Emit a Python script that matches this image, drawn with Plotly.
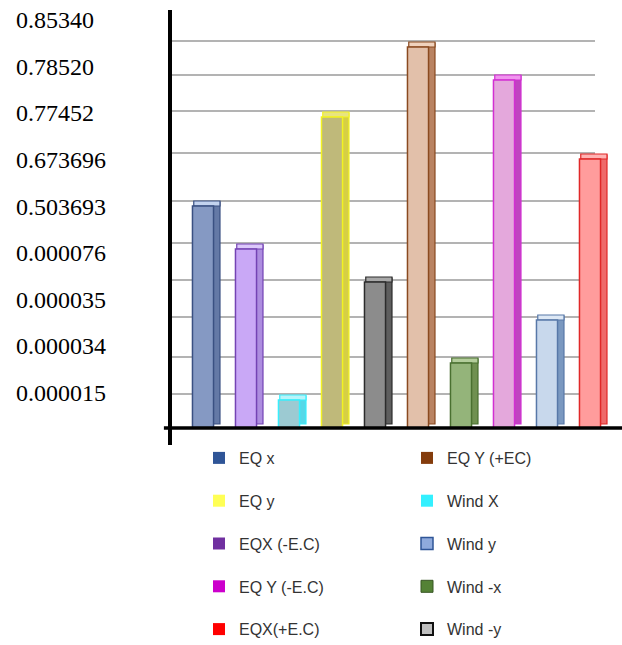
import plotly.graph_objects as go

# ---------------- data ----------------
categories = ["EQ x", "EQX (-E.C)", "Wind X", "EQ y", "Wind -y",
              "EQ Y (+EC)", "Wind -x", "EQ Y (-E.C)", "Wind y", "EQX(+E.C)"]
values = [222, 179, 28, 311, 146, 381, 65, 348, 108, 269]

# y tick labels (bottom -> top) as printed on the chart
tick_labels = ["0.000015", "0.000034", "0.000035", "0.000076", "0.503693",
               "0.673696", "0.77452", "0.78520", "0.85340"]
# horizontal gridline levels (chart units)
grid_levels = [34, 71, 111, 148, 185, 227, 275, 317, 353, 387]

# legend (two columns)
legend_left = ["EQ x", "EQ y", "EQX (-E.C)", "EQ Y (-E.C)", "EQX(+E.C)"]
legend_right = ["EQ Y (+EC)", "Wind X", "Wind y", "Wind -x", "Wind -y"]

# ---------------- styles ----------------
front_col = {"EQ x": "#8599c3", "EQX (-E.C)": "#c9a8f6", "Wind X": "#9ccad2",
             "EQ y": "#bfb97a", "Wind -y": "#8c8c8c", "EQ Y (+EC)": "#e2c0aa",
             "Wind -x": "#94b47a", "EQ Y (-E.C)": "#e4a8dc", "Wind y": "#c8d8ec",
             "EQX(+E.C)": "#ff9c9c"}
side_col = {"EQ x": "#6479a6", "EQX (-E.C)": "#ad8ddf", "Wind X": "#55d8e8",
            "EQ y": "#d6cf45", "Wind -y": "#5e5e5e", "EQ Y (+EC)": "#b98362",
            "Wind -x": "#6f9050", "EQ Y (-E.C)": "#c043c0", "Wind y": "#7a98c0",
            "EQX(+E.C)": "#ee6a6a"}
cap_col = {"EQ x": "#c3d3ef", "EQX (-E.C)": "#dcc8fb", "Wind X": "#b8f4fa",
           "EQ y": "#e8e480", "Wind -y": "#a8a8a8", "EQ Y (+EC)": "#f0d2bd",
           "Wind -x": "#b3cd9b", "EQ Y (-E.C)": "#f095ee", "Wind y": "#dde8f5",
           "EQX(+E.C)": "#ffb3b3"}
line_col = {"EQ x": "#3a5082", "EQX (-E.C)": "#7443b4", "Wind X": "#38eefc",
            "EQ y": "#f2f222", "Wind -y": "#2c2c2c", "EQ Y (+EC)": "#8a4a20",
            "Wind -x": "#4a7030", "EQ Y (-E.C)": "#d22fd2", "Wind y": "#5878a8",
            "EQX(+E.C)": "#e02828"}
legend_col = {"EQ x": "#2f5597", "EQ y": "#ffff55", "EQX (-E.C)": "#7030a0",
              "EQ Y (-E.C)": "#cc00cc", "EQX(+E.C)": "#ff0000",
              "EQ Y (+EC)": "#843c0c", "Wind X": "#33f0ff", "Wind y": "#8faadc",
              "Wind -x": "#548235", "Wind -y": "#c0c0c0"}
legend_line = {"Wind y": ("#2f5597", 1.5), "Wind -x": ("#375623", 1),
               "Wind -y": ("#111111", 2)}

W_FRONT = 0.49
DEPTH = 5

fig = go.Figure()

fronts = [front_col[c] for c in categories]
sides = [side_col[c] for c in categories]
caps = [cap_col[c] for c in categories]
lines = [line_col[c] for c in categories]

# side faces
fig.add_trace(go.Bar(x=categories, y=values, base=[DEPTH - 1] * len(values),
                     offset=W_FRONT / 2 - 0.01, width=0.16,
                     marker=dict(color=sides, line=dict(color=lines, width=1.2)),
                     showlegend=False, hoverinfo="skip"))
# top caps
fig.add_trace(go.Bar(x=categories, y=[DEPTH] * len(values), base=values,
                     offset=-W_FRONT / 2 + 0.03, width=W_FRONT + 0.12,
                     marker=dict(color=caps, line=dict(color=lines, width=1.2)),
                     showlegend=False, hoverinfo="skip"))
# front faces
fig.add_trace(go.Bar(x=categories, y=values, offset=-W_FRONT / 2, width=W_FRONT,
                     marker=dict(color=fronts, line=dict(color=lines, width=1.5)),
                     showlegend=False))

# legend entries
for lg, names in (("legend", legend_left), ("legend2", legend_right)):
    for n in names:
        lc, lw = legend_line.get(n, (legend_col[n], 0))
        fig.add_trace(go.Bar(x=[None], y=[None], name=n, legend=lg,
                             legendgroup=n,
                             marker=dict(color=legend_col[n],
                                         line=dict(color=lc, width=lw))))

# invisible helper axis for the printed tick labels
fig.add_trace(go.Scatter(x=[categories[0]], y=[0], yaxis="y2", mode="markers",
                         marker=dict(opacity=0), showlegend=False,
                         hoverinfo="skip"))

# gridlines
for g in grid_levels:
    fig.add_shape(type="line", xref="paper", yref="y", x0=0, x1=0.94,
                  y0=g, y1=g, line=dict(color="#9a9a9a", width=1.5), layer="below")
# baseline
fig.add_shape(type="line", xref="paper", yref="y", x0=-0.018, x1=1.0, y0=0, y1=0,
              line=dict(color="black", width=3.5))

# y labels as text
for i, t in enumerate(tick_labels):
    fig.add_annotation(text=t, xref="paper", yref="y2", x=-0.351, y=i,
                       xanchor="left", yanchor="middle", showarrow=False,
                       font=dict(family="Liberation Serif", size=24, color="black"))

legend_font = dict(family="Liberation Sans", size=16, color="#333333")
fig.update_layout(
    width=622, height=645,
    margin=dict(l=172, r=0, t=10, b=200, autoexpand=False),
    paper_bgcolor="white", plot_bgcolor="white",
    barmode="overlay",
    xaxis=dict(range=[-0.721, 9.744], showticklabels=False, showgrid=False,
               zeroline=False, showline=False, ticks=""),
    yaxis=dict(range=[-17, 418], showticklabels=False, showgrid=False,
               zeroline=False, showline=True, linecolor="black", linewidth=4,
               ticks=""),
    yaxis2=dict(overlaying="y", range=[-1.116, 8.219], visible=False),
    legend=dict(x=(199 - 172) / 450, y=0.0092, xanchor="left", yanchor="top",
                orientation="v", traceorder="grouped", tracegroupgap=19,
                font=legend_font, bgcolor="rgba(0,0,0,0)"),
    legend2=dict(x=(407 - 172) / 450, y=0.0092, xanchor="left", yanchor="top",
                 orientation="v", traceorder="grouped", tracegroupgap=19,
                 font=legend_font, bgcolor="rgba(0,0,0,0)"),
    showlegend=True,
)

fig.write_html("out.html")
